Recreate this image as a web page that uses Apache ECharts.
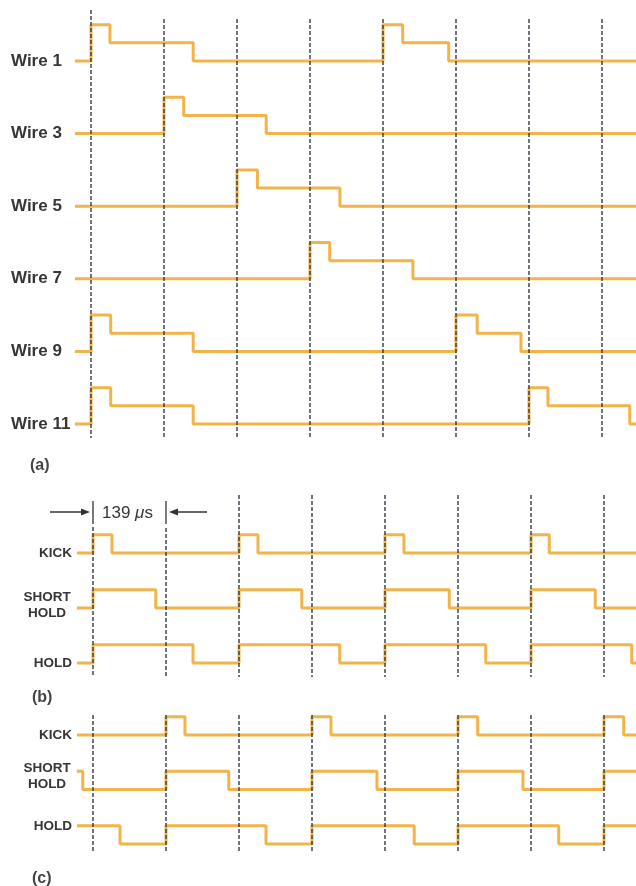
<!DOCTYPE html>
<html>
<head>
<meta charset="utf-8">
<script src="https://cdn.jsdelivr.net/npm/echarts@6/dist/echarts.min.js"></script>
<style>
  html, body { margin: 0; background: #fff; }
  #chart { width: 636px; height: 886px; }
</style>
</head>
<body>
<div id="chart"></div>
<script>
// time axis in 139 us slots, a dashed line at every slot boundary
const slots = [0, 1, 2, 3, 4, 5, 6, 7]

// (a) wire drive, [time, level]  level: 0 off, 1 hold, 2 kick
const wireNames = ['Wire 1', 'Wire 3', 'Wire 5', 'Wire 7', 'Wire 9', 'Wire 11']
const wire1 = [[-0.22, 0], [0, 2], [0.26, 1], [1.40, 0], [4, 2], [4.27, 1], [4.90, 0], [7.5, 0]]
const wire3 = [[-0.22, 0], [1, 2], [1.27, 1], [2.40, 0], [7.5, 0]]
const wire5 = [[-0.22, 0], [2, 2], [2.28, 1], [3.41, 0], [7.5, 0]]
const wire7 = [[-0.22, 0], [3, 2], [3.27, 1], [4.41, 0], [7.5, 0]]
const wire9 = [[-0.22, 0], [0, 2], [0.27, 1], [1.40, 0], [5, 2], [5.29, 1], [5.89, 0], [7.5, 0]]
const wire11 = [[-0.22, 0], [0, 2], [0.27, 1], [1.40, 0], [6, 2], [6.26, 1], [7.38, 0], [7.5, 0]]

// (b) and (c) drive phases, level 0 low, 1 high
const phaseNames = ['KICK', 'SHORT\nHOLD', 'HOLD']
const kickB = [[-0.22, 0], [0, 1], [0.26, 0], [2, 1], [2.26, 0], [4, 1], [4.26, 0], [6, 1], [6.25, 0], [7.5, 0]]
const shortHoldB = [[-0.22, 0], [0, 1], [0.86, 0], [2, 1], [2.86, 0], [4, 1], [4.88, 0], [6, 1], [6.88, 0], [7.5, 0]]
const holdB = [[-0.22, 0], [0, 1], [1.37, 0], [2, 1], [3.38, 0], [4, 1], [5.38, 0], [6, 1], [7.38, 0], [7.5, 0]]

const kickC = [[-0.22, 0], [1, 1], [1.26, 0], [3, 1], [3.26, 0], [5, 1], [5.27, 0], [7, 1], [7.27, 0], [7.5, 0]]
const shortHoldC = [[-0.22, 1], [-0.14, 0], [1, 1], [1.86, 0], [3, 1], [3.89, 0], [5, 1], [5.89, 0], [7, 1], [7.5, 1]]
const holdC = [[-0.22, 1], [0.37, 0], [1, 1], [2.37, 0], [3, 1], [4.40, 0], [5, 1], [6.38, 0], [7, 1], [7.5, 1]]

const TRACE = '#f0b44a'
const INK = '#363636'
const W = 636
const xMin = -0.22

// layout of each panel in px; lineTop overrides where a dashed line starts
const panels = [
  { x0: 91, unitX: 73, base: 61, unitY: 18.15, gap: 4, top: 19, bottom: 438, lineTop: { 0: 10 },
    names: wireNames, signals: [wire1, wire3, wire5, wire7, wire9, wire11], tag: '(a)', tagX: 30, tagY: 466 },
  { x0: 93, unitX: 73, base: 553, unitY: 18.33, gap: 3, top: 495, bottom: 677, lineTop: { 0: 527, 1: 528 },
    names: phaseNames, signals: [kickB, shortHoldB, holdB], labelLevel: [0, 0.15, 0], tag: '(b)', tagX: 32, tagY: 698 },
  { x0: 93, unitX: 73, base: 735, unitY: 18.17, gap: 3, top: 715, bottom: 852, lineTop: {},
    names: phaseNames, signals: [kickC, shortHoldC, holdC], labelLevel: [0, 0.75, 1], tag: '(c)', tagX: 32, tagY: 879 }
]

const grid = [], xAxis = [], yAxis = [], series = []
panels.forEach((p, g) => {
  const left = p.x0 + xMin * p.unitX
  p.yMin = -(p.bottom - p.base) / p.unitY
  p.yMax = (p.base - p.top) / p.unitY
  grid.push({ left: left, top: p.top, width: W - left, height: p.bottom - p.top })
  xAxis.push({ type: 'value', gridIndex: g, show: false, min: xMin, max: (W - p.x0) / p.unitX })
  yAxis.push({ type: 'value', gridIndex: g, show: false, min: p.yMin, max: p.yMax })

  p.signals.forEach((sig, row) => {
    series.push({
      type: 'line',
      xAxisIndex: g, yAxisIndex: g,
      step: 'end',
      showSymbol: false,
      clip: false,
      silent: true,
      z: 2,
      lineStyle: { color: TRACE, width: 3 },
      data: sig.map(([t, lv]) => [t, lv - row * p.gap])
    })
  })

  series.push({
    type: 'custom',
    xAxisIndex: g, yAxisIndex: g,
    clip: false,
    silent: true,
    z: 5,
    data: slots.map(k => [k, k in p.lineTop ? (p.base - p.lineTop[k]) / p.unitY : p.yMax, p.yMin]),
    renderItem: (params, api) => {
      const a = api.coord([api.value(0), api.value(1)])
      const b = api.coord([api.value(0), api.value(2)])
      return {
        type: 'line',
        shape: { x1: a[0], y1: a[1], x2: b[0], y2: b[1] },
        style: { stroke: '#333a46', lineWidth: 1.4, lineDash: [4, 2] }
      }
    }
  })
})

const chart = echarts.init(document.getElementById('chart'))
chart.setOption({ animation: false, grid, xAxis, yAxis, series })

// labels and the bracket, placed through the axes
const graphic = []
panels.forEach((p, g) => {
  p.names.forEach((name, row) => {
    const lv = p.labelLevel ? p.labelLevel[row] : 0
    const [, y] = chart.convertToPixel({ gridIndex: g }, [0, lv - row * p.gap])
    if (g === 0) {
      graphic.push({ type: 'text', x: 11, y: y,
        style: { text: name, font: 'bold 17px "Liberation Sans", Arial', fill: INK, verticalAlign: 'middle' } })
    } else {
      const multi = name.indexOf('\n') >= 0
      graphic.push({ type: 'text', x: multi ? 47 : 72, y: y,
        style: { text: name, font: 'bold 13.5px "Liberation Sans", Arial', fill: INK, lineHeight: 16,
          align: multi ? 'center' : 'right', verticalAlign: 'middle' } })
    }
  })
  graphic.push({ type: 'text', x: p.tagX, y: p.tagY,
    style: { text: p.tag, font: 'bold 16px "Liberation Sans", Arial', fill: '#444', verticalAlign: 'middle' } })
})

const [xa] = chart.convertToPixel({ gridIndex: 1 }, [0, 0])
const [xb] = chart.convertToPixel({ gridIndex: 1 }, [1, 0])
const by = 512
const arrowStyle = { stroke: '#333', lineWidth: 1.3 }
graphic.push(
  { type: 'line', shape: { x1: 50, y1: by, x2: xa - 8, y2: by }, style: arrowStyle },
  { type: 'polygon', shape: { points: [[xa - 3, by], [xa - 12, by - 3.5], [xa - 12, by + 3.5]] }, style: { fill: '#333' } },
  { type: 'line', shape: { x1: xa, y1: 501, x2: xa, y2: 524 }, style: arrowStyle },
  { type: 'line', shape: { x1: xb, y1: 501, x2: xb, y2: 524 }, style: arrowStyle },
  { type: 'line', shape: { x1: xb + 8, y1: by, x2: 207, y2: by }, style: arrowStyle },
  { type: 'polygon', shape: { points: [[xb + 3, by], [xb + 12, by - 3.5], [xb + 12, by + 3.5]] }, style: { fill: '#333' } },
  { type: 'text', x: 102, y: by + 1,
    style: { text: '139 {mu|\u03bc}s', font: '17px "Liberation Sans", Arial', fill: INK, verticalAlign: 'middle',
      rich: { mu: { font: 'italic 17px "Liberation Sans", Arial', fill: INK } } } }
)
chart.setOption({ graphic })
</script>
</body>
</html>
